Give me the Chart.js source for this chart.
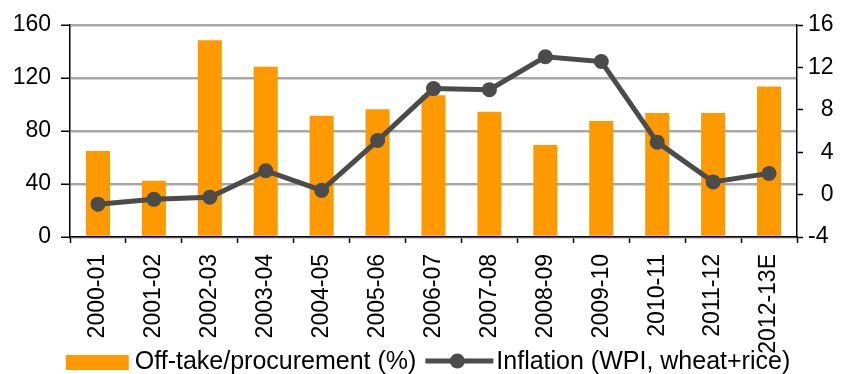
<!DOCTYPE html>
<html>
<head>
<meta charset="utf-8">
<script src="https://cdn.jsdelivr.net/npm/chart.js@4"></script>
<style>
  html, body { margin: 0; padding: 0; background: #fff; }
  #wrap { width: 848px; height: 374px; position: relative; }
</style>
</head>
<body>
<div id="wrap"><canvas id="chart"></canvas></div>
<script>
// ===== DATA =====
const years = ["2000-01", "2001-02", "2002-03", "2003-04", "2004-05", "2005-06", "2006-07",
               "2007-08", "2008-09", "2009-10", "2010-11", "2011-12", "2012-13E"];
const offtake = [65, 42.5, 148.5, 128.5, 91.5, 96.5, 107, 94.5, 69.5, 87.5, 93.5, 93.5, 113.5];
const inflation = [-0.9, -0.45, -0.25, 2.25, 0.4, 5.1, 10.0, 9.9, 13.0, 12.55, 4.95, 1.2, 2.0];
const leftTicks = { min: 0, max: 160, step: 40 };
const rightTicks = { min: -4, max: 16, step: 4 };
const seriesNames = ["Off-take/procurement (%)", "Inflation (WPI, wheat+rice)"];

// ===== STYLE =====
const ORANGE = "#ff9900";
const DARK = "#4b4b4b";
const GRID = "#a8a8a8";
const FONT = "'Liberation Sans', Arial, sans-serif";

// legend drawn underneath the axis labels
const bottomLegend = {
  id: "bottomLegend",
  afterDraw(chart) {
    const ctx = chart.ctx;
    ctx.save();
    ctx.font = "25px " + FONT;
    ctx.textBaseline = "middle";
    const y = 362;
    const w0 = ctx.measureText(seriesNames[0]).width;
    const w1 = ctx.measureText(seriesNames[1]).width;
    const total = 63 + 6 + w0 + 9 + 68 + 3 + w1;
    let x = 428 - total / 2;
    ctx.fillStyle = ORANGE;
    ctx.fillRect(x, y - 7, 63, 15);
    x += 69;
    ctx.fillStyle = "#000";
    ctx.fillText(seriesNames[0], x, y);
    x += w0 + 9;
    ctx.strokeStyle = DARK;
    ctx.lineWidth = 5;
    ctx.beginPath();
    ctx.moveTo(x, y - 1);
    ctx.lineTo(x + 68, y - 1);
    ctx.stroke();
    ctx.fillStyle = DARK;
    ctx.beginPath();
    ctx.arc(x + 32, y - 1, 7.5, 0, Math.PI * 2);
    ctx.fill();
    x += 71;
    ctx.fillStyle = "#000";
    ctx.fillText(seriesNames[1], x, y);
    ctx.restore();
  }
};

new Chart(document.getElementById("chart"), {
  data: {
    labels: years,
    datasets: [
      {
        type: "line",
        label: seriesNames[1],
        data: inflation,
        yAxisID: "y1",
        borderColor: DARK,
        borderWidth: 5,
        pointRadius: 7.5,
        pointBackgroundColor: DARK,
        pointBorderColor: DARK,
        pointBorderWidth: 0,
        tension: 0,
        order: 1
      },
      {
        type: "bar",
        label: seriesNames[0],
        data: offtake,
        yAxisID: "y",
        backgroundColor: ORANGE,
        categoryPercentage: 1,
        barPercentage: 0.43,
        order: 2
      }
    ]
  },
  options: {
    responsive: true,
    maintainAspectRatio: false,
    animation: false,
    layout: { padding: { top: 25, bottom: 0, left: 0, right: 0 } },
    plugins: { legend: { display: false }, tooltip: { enabled: false } },
    scales: {
      x: {
        afterFit: s => { s.height = 137; },
        border: { display: true, color: "#000", width: 1.5 },
        grid: { drawOnChartArea: false, drawTicks: true, tickLength: 6, tickColor: "#000", tickWidth: 1.5 },
        ticks: {
          autoSkip: false, minRotation: 90, maxRotation: 90, padding: 11,
          color: "#000", font: { family: FONT, size: 23 }
        }
      },
      y: {
        position: "left",
        min: leftTicks.min, max: leftTicks.max,
        afterFit: s => { s.width = 70; },
        border: { display: true, color: "#000", width: 1.5 },
        grid: { color: GRID, lineWidth: 2.5, drawTicks: true, tickLength: 9, tickColor: "#000", tickWidth: 1.5 },
        ticks: { stepSize: leftTicks.step, padding: 10, color: "#000", font: { family: FONT, size: 23 } }
      },
      y1: {
        position: "right",
        min: rightTicks.min, max: rightTicks.max,
        afterFit: s => { s.width = 51; },
        border: { display: true, color: "#000", width: 1.5 },
        grid: { drawOnChartArea: false, drawTicks: true, tickLength: 6, tickColor: "#000", tickWidth: 1.5 },
        ticks: {
          stepSize: rightTicks.step, padding: 5, color: "#000", font: { family: FONT, size: 23 },
          callback: v => (v >= 0 && v < 10 ? "\u2007" : "") + v
        }
      }
    }
  },
  plugins: [bottomLegend]
});
</script>
</body>
</html>
